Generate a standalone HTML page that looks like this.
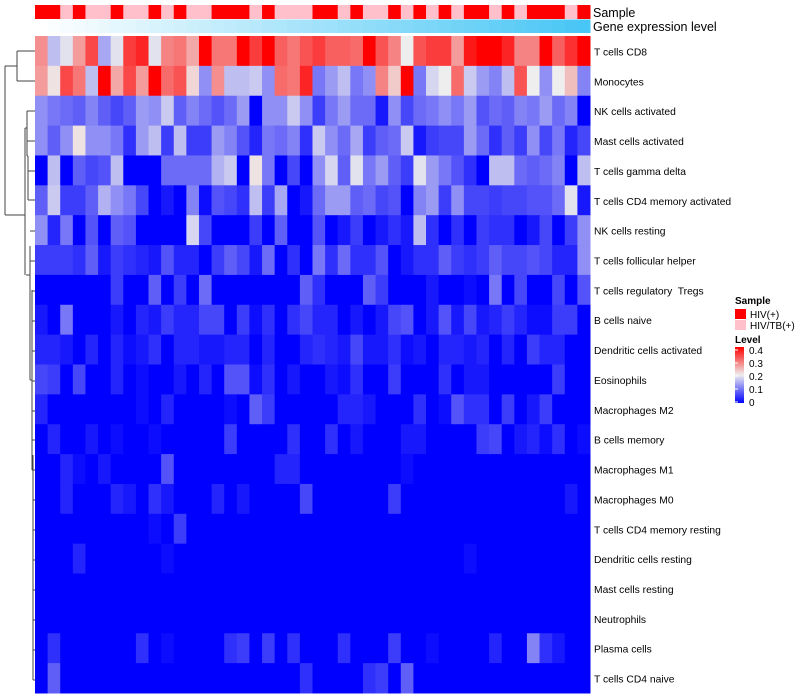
<!DOCTYPE html>
<html><head><meta charset="utf-8"><style>
html,body{margin:0;padding:0;background:#fff;width:800px;height:700px;overflow:hidden}
svg{display:block;font-family:"Liberation Sans",sans-serif}
text{white-space:pre}
</style></head><body>
<svg id="chart" width="800" height="700"></svg>
<script>
const rowLabels=["T cells CD8","Monocytes","NK cells activated","Mast cells activated","T cells gamma delta","T cells CD4 memory activated","NK cells resting","T cells follicular helper","T cells regulatory  Tregs","B cells naive","Dendritic cells activated","Eosinophils","Macrophages M2","B cells memory","Macrophages M1","Macrophages M0","T cells CD4 memory resting","Dendritic cells resting","Mast cells resting","Neutrophils","Plasma cells","T cells CD4 naive"];
const sampleGroups=['H','H','T','H','T','T','H','T','T','H','T','H','T','T','H','H','H','T','H','T','T','T','H','H','T','H','T','T','H','T','H','T','H','T','H','H','T','H','T','H','H','H','T','H'];
const geneLevel=[1,2,3,4,5,6,7,8,9,10,11,12,13,14,15,16,17,18,19,20,21,22,23,24,25,26,27,28,29,30,31,32,33,34,35,36,37,38,39,40,41,42,43,44];
const levelTicks=[0,0.1,0.2,0.3,0.4];
const r0=[0.28,0.16,0.19,0.27,0.34,0.14,0.19,0.35,0.37,0.19,0.29,0.30,0.26,0.4,0.3,0.3,0.4,0.35,0.4,0.32,0.30,0.33,0.35,0.32,0.32,0.31,0.4,0.33,0.29,0.2,0.33,0.35,0.35,0.27,0.38,0.4,0.4,0.37,0.29,0.29,0.4,0.32,0.36,0.4];
const r1=[0.27,0.21,0.34,0.30,0.16,0.4,0.26,0.34,0.27,0.4,0.31,0.33,0.22,0.12,0.28,0.16,0.16,0.17,0.12,0.31,0.30,0.37,0.10,0.13,0.16,0.10,0.12,0.29,0.23,0.4,0.10,0.18,0.2,0.31,0.17,0.13,0.11,0.16,0.33,0.2,0.12,0.2,0.24,0.11];
const r2=[0.12,0.10,0.09,0.08,0.11,0.08,0.06,0.08,0.13,0.12,0.17,0.08,0.11,0.09,0.07,0.09,0.13,0,0.12,0.12,0.17,0.12,0.05,0.10,0.13,0.09,0.09,0.02,0.12,0.06,0.09,0.10,0.12,0.10,0.13,0.07,0.09,0.08,0.11,0.10,0.13,0.09,0.11,0];
const r3=[0.12,0.08,0.12,0.21,0.12,0.12,0.10,0.04,0.13,0.16,0.05,0.16,0.05,0.05,0.13,0.11,0.07,0.03,0.10,0.09,0.11,0.04,0.17,0.12,0.09,0.14,0.05,0.08,0.09,0.17,0.02,0.05,0.06,0.06,0.13,0.09,0.04,0.08,0.05,0.12,0.06,0.10,0.03,0.06];
const r4=[0,0.16,0,0.08,0.06,0.07,0.16,0,0,0,0.09,0.09,0.09,0.09,0.15,0.17,0,0.21,0.10,0,0.06,0,0.12,0.18,0.08,0.19,0.10,0.13,0.08,0.05,0.19,0.13,0.10,0.07,0.04,0,0.16,0.16,0.09,0.08,0.09,0.11,0,0.16];
const r5=[0.08,0.17,0.05,0.05,0.08,0.15,0.12,0.10,0.06,0,0.02,0,0.11,0.01,0.07,0.06,0.04,0.16,0.05,0.14,0,0.02,0.09,0.13,0.13,0.08,0.09,0.06,0.07,0,0.11,0.13,0.05,0.12,0.06,0.06,0.05,0.06,0.06,0.07,0.07,0.09,0.19,0.02];
const r6=[0.12,0.03,0.10,0,0.07,0,0.08,0.07,0,0,0,0,0.18,0.06,0,0,0,0.05,0,0.08,0,0,0.07,0,0.02,0.05,0,0.02,0.04,0.02,0.16,0.04,0,0.04,0,0.05,0.04,0.04,0,0.02,0.06,0,0.05,0.12];
const r7=[0.05,0.05,0.05,0.04,0.08,0.02,0.05,0.04,0.03,0.02,0.07,0.03,0.03,0,0.05,0.08,0.06,0.02,0.09,0,0.04,0,0.10,0.04,0.09,0.04,0.04,0.07,0,0.02,0.04,0.04,0.08,0.05,0.04,0.05,0.08,0.06,0.06,0.07,0.06,0.03,0.03,0.12];
const r8=[0,0,0,0,0,0,0.05,0,0,0.08,0,0.05,0,0.09,0,0,0,0,0,0,0,0.08,0.04,0,0,0,0.08,0.05,0,0,0,0.02,0,0,0.01,0,0.10,0,0.06,0,0,0.06,0,0.07];
const r9=[0.02,0,0.10,0,0,0,0.02,0,0.03,0.02,0.05,0.03,0.03,0.06,0.06,0,0.05,0.01,0.04,0,0.04,0.06,0.03,0.03,0,0.02,0,0.02,0.06,0.07,0,0.02,0.07,0.02,0.06,0.02,0.03,0.05,0.03,0.01,0.01,0.05,0.05,0];
const r10=[0.03,0.03,0.02,0,0.03,0,0.03,0.01,0.02,0.04,0,0.03,0.03,0.02,0.02,0.03,0.03,0,0.03,0,0,0.03,0.04,0.03,0.02,0.06,0.02,0.02,0.04,0.01,0.02,0,0.03,0.03,0.02,0.03,0,0.03,0,0.05,0.03,0.03,0,0];
const r11=[0.06,0.05,0,0.06,0,0,0.03,0,0.01,0,0,0.02,0,0.03,0,0.07,0.07,0.01,0.04,0,0.02,0,0,0.02,0.01,0.04,0,0,0.05,0,0,0,0.04,0,0.02,0.02,0,0,0,0,0,0.05,0,0];
const r12=[0.03,0,0,0,0,0,0,0,0.01,0,0.03,0,0,0,0,0.01,0,0.08,0.05,0,0,0,0,0,0.03,0.03,0.02,0,0,0,0.04,0,0.01,0.07,0.04,0.04,0,0.05,0,0.02,0.05,0,0,0];
const r13=[0,0.03,0,0,0.02,0,0.01,0,0,0.01,0,0,0,0,0,0.05,0,0,0,0,0.04,0,0,0.04,0,0.02,0,0,0,0.02,0.02,0,0,0,0,0.05,0.06,0,0.02,0.03,0.01,0.04,0,0.01];
const r14=[0,0,0.03,0.01,0,0.02,0,0,0,0,0.07,0,0,0,0,0,0,0,0,0.03,0.03,0,0,0,0,0,0,0,0,0.01,0,0,0,0,0,0,0,0,0,0,0,0,0,0];
const r15=[0,0,0.03,0,0,0,0.03,0.02,0,0.04,0.02,0,0,0,0.03,0,0.02,0,0,0,0,0.06,0,0,0,0,0,0,0.05,0,0,0,0,0,0,0,0,0,0,0,0,0,0.02,0];
const r16=[0,0,0,0,0,0,0,0,0,0.01,0,0.05,0,0,0,0,0,0,0,0,0,0,0,0,0,0,0,0,0,0,0,0,0,0,0,0,0,0,0,0,0,0,0,0];
const r17=[0,0,0,0.03,0,0,0,0,0,0,0.01,0,0,0,0,0,0,0,0,0,0,0,0,0,0,0,0,0,0,0,0,0,0,0,0.01,0,0,0,0,0,0,0,0,0];
const r18=[0,0,0,0,0,0,0,0,0,0,0,0,0,0,0,0,0,0,0,0,0,0,0,0,0,0,0,0,0,0,0,0,0,0,0,0,0,0,0,0,0,0,0,0];
const r19=[0,0,0,0,0,0,0,0,0,0,0,0,0,0,0,0,0,0,0,0,0,0,0,0,0,0,0,0,0,0,0,0,0,0,0,0,0,0,0,0,0,0,0,0];
const r20=[0,0.04,0,0,0,0,0,0,0.04,0,0.01,0,0,0,0,0.04,0.05,0,0.05,0,0.04,0,0,0,0.04,0,0,0,0.05,0,0,0.01,0,0,0,0,0.03,0,0,0.11,0.04,0.02,0,0];
const r21=[0,0.08,0,0,0,0,0,0,0,0,0,0,0,0,0,0,0,0,0,0,0,0.04,0,0,0,0,0.04,0.05,0,0.08,0,0,0,0,0,0,0,0,0,0,0,0,0,0];
const matrix=[r0,r1,r2,r3,r4,r5,r6,r7,r8,r9,r10,r11,r12,r13,r14,r15,r16,r17,r18,r19,r20,r21];

const NS="http://www.w3.org/2000/svg";
const svg=document.getElementById('chart');
const X0=35,X1=590,Y0=36,Y1=693;
const nC=sampleGroups.length,nR=matrix.length;
const cw=(X1-X0)/nC,rh=(Y1-Y0)/nR;
function xPos(c){return X0+c*cw;}
function yPos(r){return Y0+r*rh;}
function mk(t,a){const e=document.createElementNS(NS,t);for(const k in a)e.setAttribute(k,a[k]);svg.appendChild(e);return e;}
function colorFor(v){
  const t=Math.max(0,Math.min(1,v/0.4));let r,g,b;
  if(t<0.5){const u=t/0.5;r=Math.round(238*u);g=Math.round(238*u);b=Math.round(255-17*u);}
  else{const u=(t-0.5)/0.5;r=Math.round(238+17*u);g=Math.round(238*(1-u));b=Math.round(238*(1-u));}
  return `rgb(${r},${g},${b})`;
}
function geneColor(v){const u=(v-1)/43;return `rgb(${Math.round(255-(255-72)*u)},${Math.round(255-(255-198)*u)},${Math.round(255-(255-245)*u)})`;}

sampleGroups.forEach((s,c)=>{
  const e=mk('rect',{x:xPos(c),y:5,width:cw+0.5,height:14,fill:s==='H'?'#ff0000':'#ffc0cb'});
  
  
});
geneLevel.forEach((g,c)=>{
  const e=mk('rect',{x:xPos(c),y:19.5,width:cw+0.5,height:13.5,fill:geneColor(g)});
  
  
});
matrix.forEach((row,r)=>{
  row.forEach((v,c)=>{
    const e=mk('rect',{x:xPos(c),y:yPos(r),width:cw+0.5,height:rh+0.5,fill:colorFor(v)});
    
    
  });
  const t=mk('text',{x:594,y:yPos(r)+rh/2+4.5,'font-size':10.3,fill:'#000'});
  t.textContent=rowLabels[r];
  
  
});
let t=mk('text',{x:593,y:17,'font-size':12.5});t.textContent='Sample';


t=mk('text',{x:593,y:31,'font-size':12.5});t.textContent='Gene expression level';



const dg=[[5,66,5,215],[5,66,17,66],[17,51,17,81],[17,51,35,51],[17,81,35,81],[5,215,25,215],
[25,128,25,275],[25,128,27,128],[27,111,27,156],[27,111,35,111],[27,141,35,141],[27,156,28,156],[28,156,28,200],[28,171,35,171],[28,200,35,200],
[26,275,30,275],[30,246,30,380],[30,231,35,231],[30,261,35,261],[30,380,32,380],[32,290,32,470],[32,291,35,291],[32,321,35,321],[32,351,35,351],[32,381,35,381],[32,411,35,411],[32,440,35,440],
[32,470,33,470],[33,455,33,680],[33,470,35,470],[33,500,35,500],[33,530,35,530],[33,560,35,560],[33,590,35,590],[33,620,35,620],[33,650,35,650],[33,680,35,680]];
dg.forEach(l=>{
  const e=mk('line',{x1:l[0],y1:l[1],x2:l[2],y2:l[3],stroke:'#444','stroke-width':1});
  
  
});

t=mk('text',{x:735,y:304,'font-size':10,'font-weight':'bold'});t.textContent='Sample';


[['#ff0000','HIV(+)',309],['#ffc0cb','HIV/TB(+)',320]].forEach(d=>{
  const r=mk('rect',{x:735,y:d[2],width:11,height:10,fill:d[0]});
  
  
  const tx=mk('text',{x:750,y:d[2]+9,'font-size':10});tx.textContent=d[1];
  
  
});
t=mk('text',{x:735,y:343,'font-size':10,'font-weight':'bold'});t.textContent='Level';


const defs=document.createElementNS(NS,'defs');
defs.innerHTML='<linearGradient id="lg" x1="0" y1="1" x2="0" y2="0"><stop offset="0" stop-color="#0000ff"/><stop offset="0.5" stop-color="#eeeeee"/><stop offset="1" stop-color="#ff0000"/></linearGradient>';
svg.appendChild(defs);
const by0=403,by1=347;
const cb=mk('rect',{x:735,y:by1,width:9,height:by0-by1,fill:'url(#lg)'});


levelTicks.forEach(v=>{
  const y=by0-(v/0.4)*(by0-by1-4)-1;
  const l=mk('line',{x1:735,x2:738,y1:y,y2:y,stroke:'#fff','stroke-width':1});
  
  
  const tx=mk('text',{x:749,y:y+4,'font-size':10});tx.textContent=String(v);
  
  
});
</script>
</body></html>
